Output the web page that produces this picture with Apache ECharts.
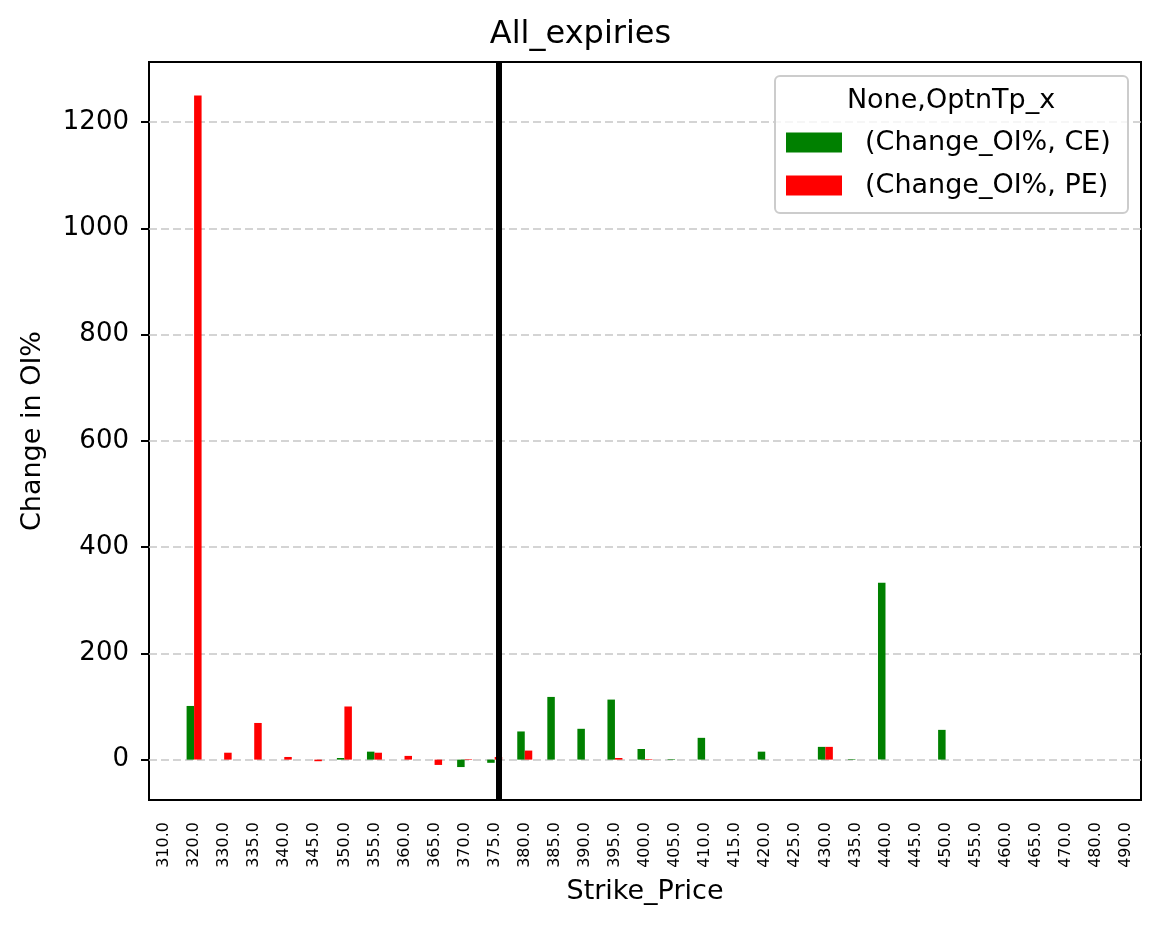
<!DOCTYPE html>
<html>
<head>
<meta charset="utf-8">
<script src="https://cdn.jsdelivr.net/npm/echarts@6/dist/echarts.min.js"></script>
<style>
  html, body { margin: 0; padding: 0; background: #fff; }
  #chart { width: 1161px; height: 928px; }
</style>
</head>
<body>
<div id="chart"></div>
<script>
  // strike prices (x categories)
  const strikes = ['310.0', '320.0', '330.0', '335.0', '340.0', '345.0', '350.0', '355.0', '360.0',
    '365.0', '370.0', '375.0', '380.0', '385.0', '390.0', '395.0', '400.0', '405.0', '410.0',
    '415.0', '420.0', '425.0', '430.0', '435.0', '440.0', '445.0', '450.0', '455.0', '460.0',
    '465.0', '470.0', '480.0', '490.0'];
  // change in OI% for calls / puts
  const ceValues = [0, 101, 0, 0, 0, 0, 3, 15, 0, 0, -14, -6, 53, 118, 58, 113, 20, 1, 41,
    0, 15, 0, 24, 1, 333, 0, 56, 0, 0, 0, 0, 0, 0];
  const peValues = [0, 1250, 13, 69, 5, -3, 100, 13, 7, -10, 1, 5, 17, 0, 0, 3, 1, 0, 0,
    0, 0, 0, 24, 0, 0, 0, 0, 0, 0, 0, 0, 0, 0];
  const yTicks = [0, 200, 400, 600, 800, 1000, 1200];
  const spotStrike = '375.0';

  const font = 'DejaVu Sans';
  const chart = echarts.init(document.getElementById('chart'));

  chart.setOption({
    animation: false,
    textStyle: { fontFamily: font },
    title: {
      text: 'All_expiries',
      left: 'center',
      top: 14,
      textStyle: { fontFamily: font, fontSize: 32, fontWeight: 'normal', color: '#000' }
    },
    grid: {
      left: 149, right: 20, top: 62, bottom: 128,
      show: true, borderColor: '#000', borderWidth: 2, backgroundColor: 'transparent'
    },
    legend: {
      orient: 'vertical',
      left: 786,
      top: 129,
      padding: 0,
      z: 200,
      itemWidth: 56,
      itemHeight: 20,
      itemGap: 16,
      icon: 'rect',
      textStyle: { fontFamily: font, fontSize: 27, color: '#000', lineHeight: 20, padding: [0, 0, 0, 18] },
      data: ['(Change_OI%, CE)', '(Change_OI%, PE)']
    },
    graphic: [
      {
        type: 'rect',
        z: 90,
        shape: { x: 775, y: 76, width: 353, height: 137, r: 5 },
        style: { fill: 'rgba(255,255,255,0.8)', stroke: '#cccccc', lineWidth: 2 }
      },
      {
        type: 'text',
        z: 91,
        x: 951,
        y: 101,
        style: {
          text: 'None,OptnTp_x', fontFamily: font, fontSize: 27, fill: '#000',
          align: 'center', verticalAlign: 'middle'
        }
      }
    ],
    xAxis: {
      type: 'category',
      data: strikes,
      name: 'Strike_Price',
      nameLocation: 'middle',
      nameGap: 78,
      nameTextStyle: { fontFamily: font, fontSize: 27, color: '#000' },
      axisLine: { onZero: false, lineStyle: { color: '#000', width: 2 } },
      axisTick: { alignWithLabel: true, length: 8, lineStyle: { color: '#000', width: 2 } },
      axisLabel: { rotate: 90, interval: 0, fontSize: 16, color: '#000', margin: 22, fontFamily: font },
      splitLine: { show: false }
    },
    yAxis: {
      type: 'value',
      min: -76,
      max: 1313,
      name: 'Change in OI%',
      nameLocation: 'middle',
      nameGap: 103,
      nameTextStyle: { fontFamily: font, fontSize: 27, color: '#000' },
      axisLine: { show: true, lineStyle: { color: '#000', width: 2 } },
      axisTick: { show: true, length: 8, customValues: yTicks, lineStyle: { color: '#000', width: 2 } },
      axisLabel: {
        fontSize: 26, color: '#000', margin: 20, customValues: yTicks, fontFamily: font,
        formatter: v => String(v)
      },
      splitLine: { show: false }
    },
    series: [
      {
        name: '(Change_OI%, CE)',
        type: 'bar',
        data: ceValues,
        barWidth: 7.5,
        barGap: '0%',
        itemStyle: { color: '#008000' },
        markLine: {
          silent: true,
          symbol: 'none',
          z: 1,
          label: { show: false },
          lineStyle: { color: '#c6c6c6', width: 1.5, type: [8, 4] },
          data: yTicks.map(v => ({ yAxis: v }))
        }
      },
      {
        name: '(Change_OI%, PE)',
        type: 'bar',
        data: peValues,
        barWidth: 7.5,
        barGap: '0%',
        itemStyle: { color: '#ff0000' },
        markLine: {
          silent: true,
          symbol: 'none',
          z: 10,
          label: { show: false },
          lineStyle: { color: '#000', width: 6, type: 'solid' },
          data: [{ xAxis: spotStrike }]
        }
      }
    ]
  });
</script>
</body>
</html>
